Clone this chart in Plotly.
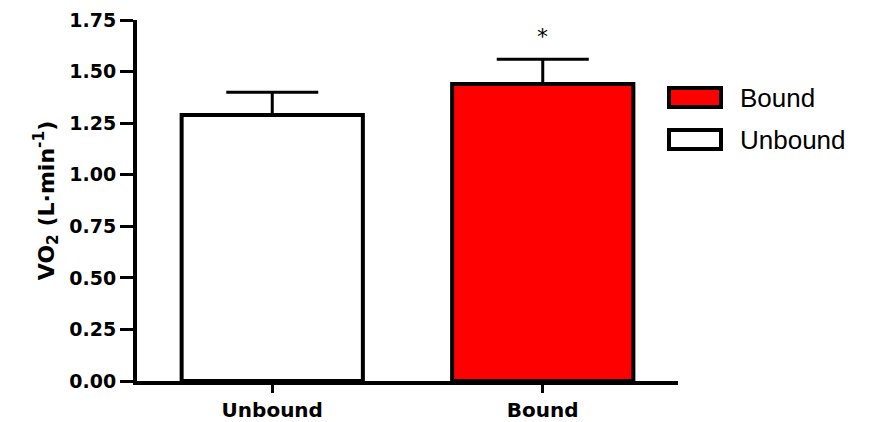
import plotly.graph_objects as go

categories = ["Unbound", "Bound"]
means = [1.29, 1.44]
sem = [0.11, 0.12]
colors = ["#FFFFFF", "#FF0000"]
legend_labels = ["Bound", "Unbound"]
legend_colors = ["#FF0000", "#FFFFFF"]
y_ticks = [0.0, 0.25, 0.5, 0.75, 1.0, 1.25, 1.5, 1.75]
sig_marks = ["", "*"]

W, H = 869, 422
ML, MR, MT, MB = 137, 191, 20, 41
PW = W - ML - MR
PH = H - MT - MB

fig = go.Figure()
fig.add_trace(go.Bar(
    x=categories, y=means,
    marker=dict(color=colors, line=dict(color="black", width=4)),
    error_y=dict(type="data", array=sem, arrayminus=[0] * len(sem), symmetric=False,
                 color="black", thickness=3, width=46),
    width=0.67,
    showlegend=False,
))

# significance marks
for c, m, s, t in zip(categories, means, sem, sig_marks):
    if t:
        fig.add_annotation(x=c, y=m + s, text=t, showarrow=False, yanchor="bottom",
                           yshift=8, font=dict(family="DejaVu Sans", size=22, color="black"))

# custom legend
def px_x(p):
    return (p - ML) / PW

def px_y(p):
    return (H - MB - p) / PH

box_tops = [88, 130]
for lab, col, top in zip(legend_labels, legend_colors, box_tops):
    fig.add_shape(type="rect", xref="paper", yref="paper",
                  x0=px_x(669), x1=px_x(721), y0=px_y(top), y1=px_y(top + 19),
                  fillcolor=col, line=dict(color="black", width=4))
    fig.add_annotation(xref="paper", yref="paper", x=px_x(738), y=px_y(top + 10),
                       text=lab, showarrow=False, xanchor="left", yanchor="middle",
                       font=dict(family="Liberation Sans", size=26, color="black"))

fig.update_layout(
    width=W, height=H,
    margin=dict(l=ML, r=MR, t=MT, b=MB, pad=0, autoexpand=False),
    plot_bgcolor="white", paper_bgcolor="white",
    bargap=0.33,
)
fig.update_xaxes(
    range=[-0.5, 1.5], showline=True, linecolor="black", linewidth=4,
    ticks="outside", ticklen=8, tickwidth=3, tickcolor="black",
    tickfont=dict(family="DejaVu Sans", size=20, color="black", weight="bold"),
    showgrid=False, zeroline=False, automargin=False,
)
fig.update_yaxes(
    range=[0, 1.75], tickvals=y_ticks, tickformat=".2f",
    showline=True, linecolor="black", linewidth=4,
    ticks="outside", ticklen=13, tickwidth=3, tickcolor="black",
    tickfont=dict(family="DejaVu Sans", size=19, color="black", weight="bold"),
    showgrid=False, zeroline=False, automargin=False,
    title=dict(text="VO<sub>2</sub> (L·min<sup>-1</sup>)", standoff=10,
               font=dict(family="DejaVu Sans", size=22, color="black", weight="bold")),
)

fig.write_html("out.html")
